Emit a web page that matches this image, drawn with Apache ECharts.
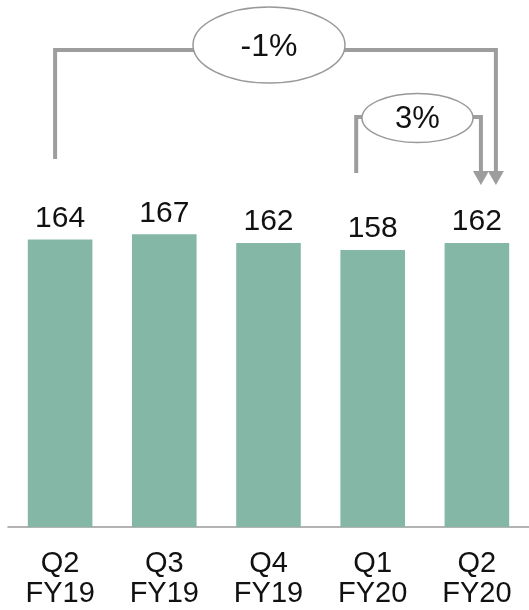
<!DOCTYPE html>
<html><head><meta charset="utf-8">
<script src="https://cdn.jsdelivr.net/npm/echarts@6/dist/echarts.min.js"></script>
<style>html,body{margin:0;padding:0;background:#fff}#c{width:529px;height:610px}</style>
</head><body><div id="c"></div>
<script>
var categories = ['Q2\nFY19', 'Q3\nFY19', 'Q4\nFY19', 'Q1\nFY20', 'Q2\nFY20'];
var values = [164, 167, 162, 158, 162];
var changeLabels = ['-1%', '3%'];

var chart = echarts.init(document.getElementById('c'), null, {renderer: 'canvas'});
var FONT = 'Liberation Sans, Arial, sans-serif';
chart.setOption({
  animation: false,
  grid: {left: 8, width: 522, top: 176.5, bottom: 83, containLabel: false},
  xAxis: {
    type: 'category', data: categories,
    axisLine: {lineStyle: {color: '#9a9a9a', width: 1.5}},
    axisTick: {show: false},
    axisLabel: {color: '#111', fontSize: 29, fontFamily: FONT, lineHeight: 30, margin: 22, interval: 0}
  },
  yAxis: {type: 'value', min: 0, max: 200, show: false, splitLine: {show: false}},
  series: [{
    type: 'bar', data: values, barWidth: '62%',
    itemStyle: {color: '#85b7a7'},
    label: {show: true, position: 'top', distance: 6, color: '#111', fontSize: 30, fontFamily: FONT}
  }]
});

function px(i, v) { return chart.convertToPixel({xAxisIndex: 0, yAxisIndex: 0}, [i, v]); }
var g = [];
var LC = '#9d9d9d';
var x0 = px(0, 0)[0] - 5;
var x3 = px(3, 0)[0] - 16.5;
var x4a = px(4, 0)[0] + 4;
var x4b = px(4, 0)[0] + 19;
var arrowTip = 185;
var headH = 13;
// big bracket
var yTop = 50;
g.push({type: 'polyline', shape: {points: [[x0, 159], [x0, yTop], [x4b, yTop], [x4b, arrowTip - headH]]}, style: {stroke: LC, lineWidth: 4, fill: null}});
g.push({type: 'polygon', shape: {points: [[x4b - 8, arrowTip - headH - 1], [x4b + 8, arrowTip - headH - 1], [x4b, arrowTip]]}, style: {fill: LC}});
// small bracket
var ySm = 117;
g.push({type: 'polyline', shape: {points: [[x3, 173], [x3, ySm], [x4a, ySm], [x4a, arrowTip - headH]]}, style: {stroke: LC, lineWidth: 4, fill: null}});
g.push({type: 'polygon', shape: {points: [[x4a - 8, arrowTip - headH - 1], [x4a + 8, arrowTip - headH - 1], [x4a, arrowTip]]}, style: {fill: LC}});
// ellipses
g.push({type: 'ellipse', shape: {cx: 269, cy: 45, rx: 76, ry: 38}, style: {fill: '#fff', stroke: '#999', lineWidth: 1.5}});
g.push({type: 'text', x: 269, y: 47, style: {text: changeLabels[0], fontSize: 32, fontFamily: FONT, fill: '#111', align: 'center', verticalAlign: 'middle'}});
g.push({type: 'ellipse', shape: {cx: 417.5, cy: 118, rx: 55.5, ry: 24.5}, style: {fill: '#fff', stroke: '#999', lineWidth: 1.5}});
g.push({type: 'text', x: 417.5, y: 119, style: {text: changeLabels[1], fontSize: 31, fontFamily: FONT, fill: '#111', align: 'center', verticalAlign: 'middle'}});
chart.setOption({graphic: {elements: g}});
</script></body></html>
